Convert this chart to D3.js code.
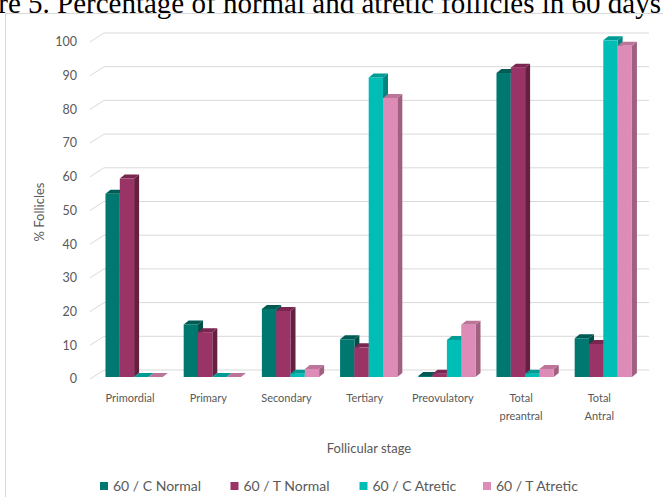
<!DOCTYPE html>
<html>
<head>
<meta charset="utf-8">
<script src="https://cdn.jsdelivr.net/npm/d3@7"></script>
<style>
  html, body { margin: 0; padding: 0; background: #fff; }
  svg { display: block; }
</style>
</head>
<body>
<svg id="chart" width="663" height="497"></svg>
<script>
// Follicle percentages at 60 days, by follicular stage
const categories = ["Primordial", "Primary", "Secondary", "Tertiary", "Preovulatory", "Total preantral", "Total Antral"];
const seriesNames = ["60 / C Normal", "60 / T Normal", "60 / C Atretic", "60 / T Atretic"];
const cNormal  = [54.4, 15.6, 20.2, 11.2, 0.3, 90.2, 11.5];
const tNormal  = [58.9, 13.3, 19.6, 8.8, 1.0, 91.8, 9.8];
const cAtretic = [0, 0, 1.0, 88.9, 11.0, 1.0, 99.9];
const tAtretic = [0, 0, 2.4, 82.8, 15.5, 2.4, 98.3];
const yTicks = [0, 10, 20, 30, 40, 50, 60, 70, 80, 90, 100];

const series = [cNormal, tNormal, cAtretic, tAtretic];
const faceColors = ["#00786f", "#9a3366", "#00bdb6", "#dd8cb8"];
const sideColors = ["#004e48", "#66203f", "#008580", "#a0607f"];
const topColors  = ["#005b54", "#7a2650", "#009b95", "#bb7598"];

const svg = d3.select("#chart");
const font = "Lato, 'Open Sans', sans-serif";
const textColor = "#595959";

// Caption above the chart frame (runs past the top edge of the page)
svg.append("text")
  .attr("x", 661).attr("y", 13)
  .attr("text-anchor", "end")
  .attr("font-family", "'Liberation Serif', 'Times New Roman', serif")
  .attr("font-size", 29)
  .attr("fill", "#000")
  .text("Figure 5. Percentage of normal and atretic follicles in 60 days");

// Chart frame
svg.append("rect")
  .attr("x", 5.5).attr("y", 13.5)
  .attr("width", 700).attr("height", 600)
  .attr("fill", "none").attr("stroke", "#d9d9d9");

// Scales: front plane (bars) and depth offsets for the pseudo-3D look
const floorY = 377;
const y = d3.scaleLinear().domain([0, 100]).range([floorY, floorY - 337]);
const wallDx = 14, wallDy = 7;        // back wall offset from the front axis
const axisX = 90;
const wallRight = 649;
const depthX = 5, depthY = 4;         // bar depth

const x0 = d3.scaleBand().domain(categories)
  .range([95, 95 + 7 * 78.2])
  .paddingInner(0.268).paddingOuter(0.134);
const x1 = d3.scaleBand().domain(d3.range(series.length))
  .range([0, x0.bandwidth()]);

// Gridlines on the back wall plus the short receding ticks
const grid = svg.append("g");
yTicks.forEach(t => {
  const yf = y(t) + 2;
  const yb = y(t) - wallDy;
  grid.append("line")
    .attr("x1", axisX).attr("y1", yf)
    .attr("x2", axisX + wallDx).attr("y2", yb)
    .attr("stroke", "#d9d9d9").attr("stroke-width", 1);
  grid.append("line")
    .attr("x1", axisX + wallDx).attr("y1", yb)
    .attr("x2", wallRight).attr("y2", yb)
    .attr("stroke", "#d9d9d9").attr("stroke-width", 1);
  grid.append("text")
    .attr("x", 77).attr("y", yf)
    .attr("dy", "0.35em")
    .attr("text-anchor", "end")
    .attr("font-family", font).attr("font-size", 12.5)
    .attr("fill", textColor)
    .text(t);
});

// Bars: front face, right side face and top face
const bars = svg.append("g");
categories.forEach((cat, ci) => {
  series.forEach((vals, si) => {
    const v = vals[ci];
    const xl = x0(cat) + x1(si);
    const w = x1.bandwidth();
    const top = y(v);
    const g = bars.append("g");
    g.append("polygon")
      .attr("points", [[xl + w, top], [xl + w + depthX, top - depthY], [xl + w + depthX, floorY - depthY], [xl + w, floorY]].join(" "))
      .attr("fill", sideColors[si]);
    g.append("polygon")
      .attr("points", [[xl, top], [xl + depthX, top - depthY], [xl + w + depthX, top - depthY], [xl + w, top]].join(" "))
      .attr("fill", topColors[si]);
    if (floorY - top > 0) {
      g.append("rect")
        .attr("x", xl).attr("y", top)
        .attr("width", w).attr("height", floorY - top)
        .attr("fill", faceColors[si]);
    }
  });
});

// Category labels (two lines where needed)
const catLabels = svg.append("g");
categories.forEach(cat => {
  const cx = x0(cat) + x0.bandwidth() / 2 - 4;
  const words = cat.startsWith("Total") ? cat.split(" ") : [cat];
  const t = catLabels.append("text")
    .attr("text-anchor", "middle")
    .attr("font-family", font).attr("font-size", 11)
    .attr("fill", textColor);
  words.forEach((wd, i) => {
    t.append("tspan").attr("x", cx).attr("y", 402 + i * 18).text(wd);
  });
});

// Axis titles
svg.append("text")
  .attr("x", 369).attr("y", 453)
  .attr("text-anchor", "middle")
  .attr("font-family", font).attr("font-size", 13)
  .attr("fill", textColor)
  .text("Follicular stage");

svg.append("text")
  .attr("transform", "translate(44,212) rotate(-90)")
  .attr("text-anchor", "middle")
  .attr("font-family", font).attr("font-size", 13)
  .attr("fill", textColor)
  .text("% Follicles");

// Legend
const legendX = [100, 230.5, 359.5, 483];
const legend = svg.append("g");
seriesNames.forEach((name, i) => {
  legend.append("rect")
    .attr("x", legendX[i]).attr("y", 482)
    .attr("width", 8).attr("height", 8)
    .attr("fill", faceColors[i]);
  legend.append("text")
    .attr("x", legendX[i] + 13).attr("y", 486)
    .attr("dy", "0.35em")
    .attr("font-family", font).attr("font-size", 14)
    .attr("fill", textColor)
    .text(name);
});
</script>
</body>
</html>
